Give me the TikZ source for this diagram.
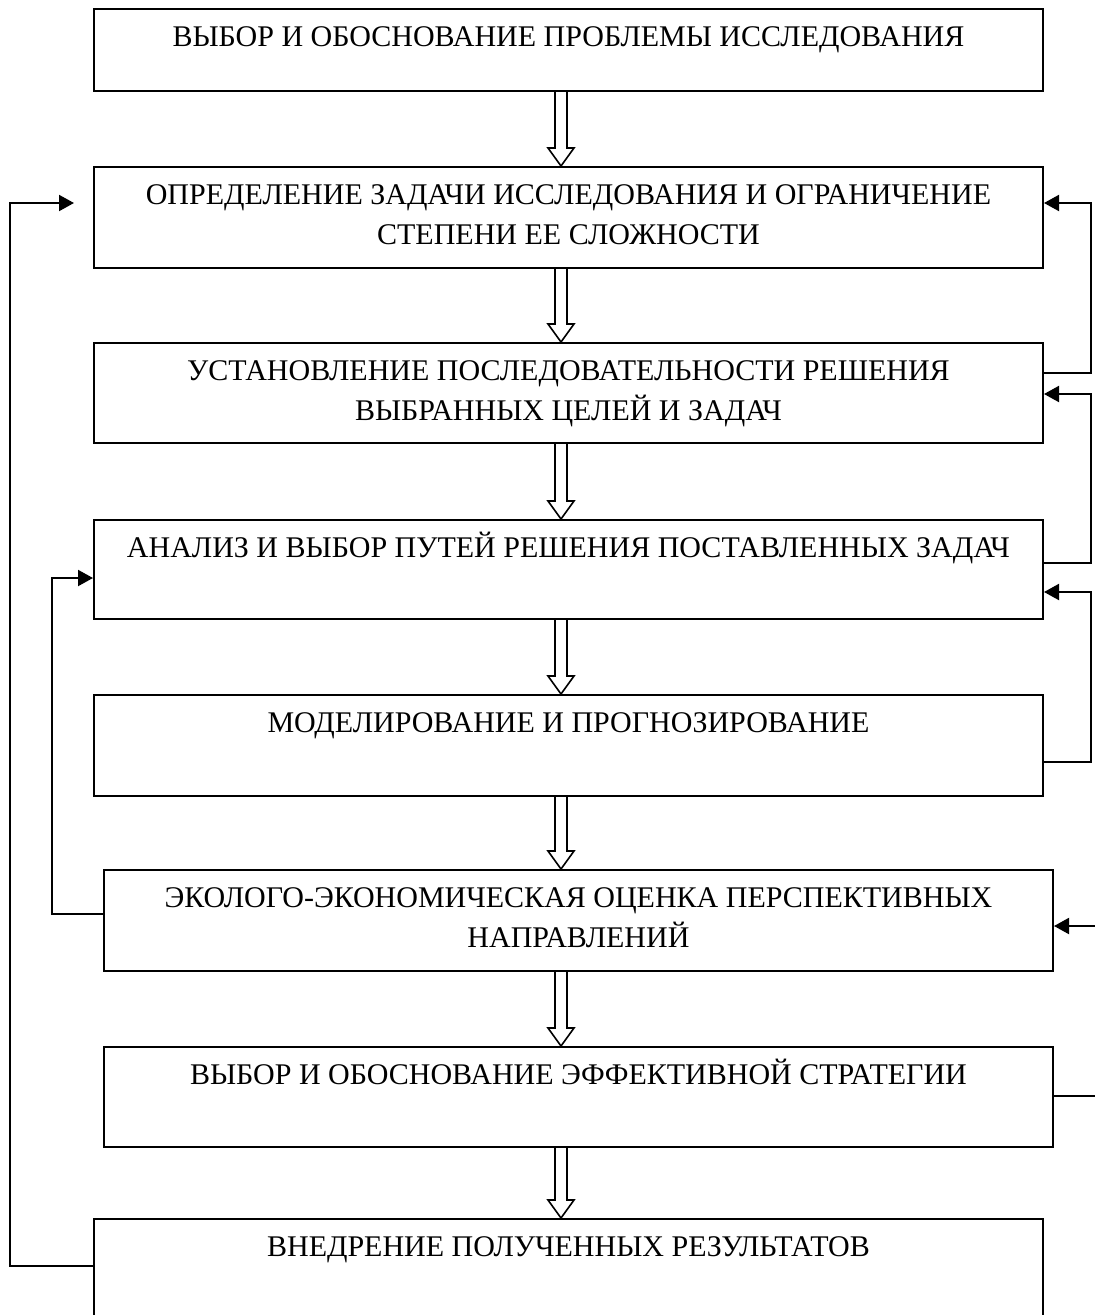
\documentclass[tikz,border=0pt]{standalone}
\usepackage{fontspec}
\setmainfont{Liberation Serif}
\usetikzlibrary{arrows.meta,calc}

\tikzset{
  stage/.style={draw, line width=2pt, rectangle, inner sep=0pt, anchor=north west},
  caption/.style={anchor=base, inner sep=0pt, font=\fontsize{30}{40}\selectfont},
  feedback/.style={draw, line width=2pt, -{Triangle[length=15pt,width=16pt]}},
  hollow/.style={draw, line width=1.6pt, line join=miter, fill=white},
}

% stage box: name, left x, top y, width, height
\newcommand\stagebox[5]{%
  \node[stage, minimum width=#4pt, minimum height=#5pt] (#1) at (#2,#3) {};}
% text lines of a stage, first baseline 38 below the top edge
\newcommand\stagetext[3]{%
  \node[caption] (#1) at ($(#2.north)+(0,38)$)
    {\parbox[t]{960pt}{\centering #3}};}
% outlined down arrow from one stage to the next
\newcommand\flowarrow[2]{%
  \draw[hollow] (555,0 |- #1.south) -- ($(555,0 |- #2.north)+(0,-18)$)
    -- ++(-7,0) -- (561,0 |- #2.north) -- ($(574,0 |- #2.north)+(0,-18)$)
    -- ++(-7,0) -- (567,0 |- #1.south);}

\begin{document}
\begin{tikzpicture}[x=1pt,y=-1pt]
\useasboundingbox (0,0) rectangle (1095,1315);
\clip (0,0) rectangle (1095,1315);

\stagebox{s1}{93}{8}{949}{82}
\stagebox{s2}{93}{166}{949}{101}
\stagebox{s3}{93}{342}{949}{100}
\stagebox{s4}{93}{519}{949}{99}
\stagebox{s5}{93}{694}{949}{101}
\stagebox{s6}{103}{869}{949}{101}
\stagebox{s7}{103}{1046}{949}{100}
\stagebox{s8}{93}{1218}{949}{140}

\stagetext{t1}{s1}{ВЫБОР И ОБОСНОВАНИЕ ПРОБЛЕМЫ ИССЛЕДОВАНИЯ}
\stagetext{t2}{s2}{ОПРЕДЕЛЕНИЕ ЗАДАЧИ ИССЛЕДОВАНИЯ И ОГРАНИЧЕНИЕ\\СТЕПЕНИ ЕЕ СЛОЖНОСТИ}
\stagetext{t3}{s3}{УСТАНОВЛЕНИЕ ПОСЛЕДОВАТЕЛЬНОСТИ РЕШЕНИЯ\\ВЫБРАННЫХ ЦЕЛЕЙ И ЗАДАЧ}
\stagetext{t4}{s4}{АНАЛИЗ И ВЫБОР ПУТЕЙ РЕШЕНИЯ ПОСТАВЛЕННЫХ ЗАДАЧ}
\stagetext{t5}{s5}{МОДЕЛИРОВАНИЕ И ПРОГНОЗИРОВАНИЕ}
\stagetext{t6}{s6}{ЭКОЛОГО-ЭКОНОМИЧЕСКАЯ ОЦЕНКА ПЕРСПЕКТИВНЫХ\\НАПРАВЛЕНИЙ}
\stagetext{t7}{s7}{ВЫБОР И ОБОСНОВАНИЕ ЭФФЕКТИВНОЙ СТРАТЕГИИ}
\stagetext{t8}{s8}{ВНЕДРЕНИЕ ПОЛУЧЕННЫХ РЕЗУЛЬТАТОВ}

\flowarrow{s1}{s2}
\flowarrow{s2}{s3}
\flowarrow{s3}{s4}
\flowarrow{s4}{s5}
\flowarrow{s5}{s6}
\flowarrow{s6}{s7}
\flowarrow{s7}{s8}

% return loops on the right
\draw[feedback] (s3.east |- 0,373) -| (1091,203) -- (s2.east |- 0,203);
\draw[feedback] (s4.east |- 0,563) -| (1091,394) -- (s3.east |- 0,394);
\draw[feedback] (s5.east |- 0,762) -| (1091,592) -- (s4.east |- 0,592);
\draw[feedback] (s7.east |- 0,1096) -| (1099,926) -- (s6.east |- 0,926);

% return loops on the left
\draw[feedback] (s6.west |- 0,914) -| (52,578) -- (s4.west |- 0,578);
\draw[feedback, shorten >=19pt] (s8.west |- 0,1266) -| (10,203) -- (s2.west |- 0,203);
\end{tikzpicture}
\end{document}
